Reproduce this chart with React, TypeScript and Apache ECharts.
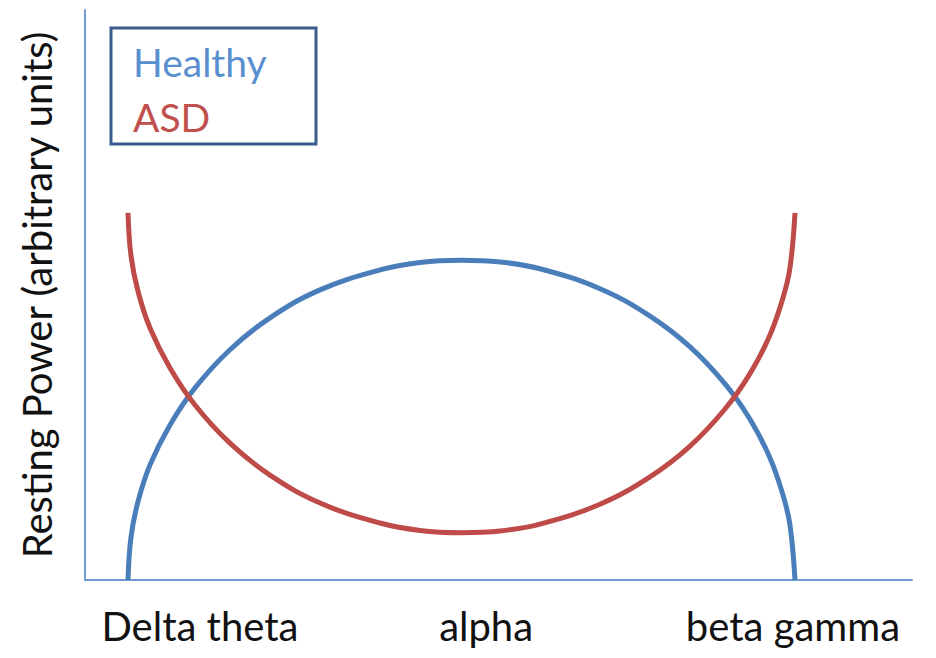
import React, { useEffect, useRef } from "react";
import * as echarts from "echarts";

// Band positions along the frequency axis (0..10) and resting power (0..10)
const bandX = [0.52, 0.556, 0.64, 0.786, 1.028, 1.33, 1.753, 2.237, 2.842, 3.567, 4.05, 4.547, 5.02, 5.502, 6.227, 6.832, 7.316, 7.739, 8.041, 8.283, 8.44, 8.525, 8.585];
const healthy = [0, 0.75, 1.37, 2.02, 2.72, 3.37, 4.04, 4.6, 5.09, 5.44, 5.57, 5.61, 5.58, 5.46, 5.11, 4.63, 4.09, 3.44, 2.82, 2.14, 1.49, 0.96, 0];
const asd = [6.44, 5.69, 5.07, 4.42, 3.72, 3.07, 2.4, 1.84, 1.35, 1.0, 0.87, 0.83, 0.86, 0.98, 1.33, 1.81, 2.35, 3.0, 3.62, 4.3, 4.95, 5.48, 6.44];
const bandLabels = ["Delta theta", "alpha", "beta gamma"];
const bandLabelPos = [1.39, 4.85, 8.56];
const seriesNames = ["Healthy", "ASD"];

const FONT = "Lato, 'Open Sans', sans-serif";

function labelFor(v: number): string {
  let best = 0;
  for (let i = 1; i < bandLabelPos.length; i++) {
    if (Math.abs(bandLabelPos[i] - v) < Math.abs(bandLabelPos[best] - v)) best = i;
  }
  return Math.abs(bandLabelPos[best] - v) < 0.05 ? bandLabels[best] : "";
}

export default function App() {
  const ref = useRef<HTMLDivElement>(null);
  useEffect(() => {
    if (!ref.current) return;
    const chart = echarts.init(ref.current, null, { renderer: "svg" });
    chart.setOption({
      animation: false,
      backgroundColor: "#ffffff",
      grid: { left: 85, top: 10, right: 24, bottom: 78 },
      xAxis: {
        type: "value",
        min: 0,
        max: 10,
        axisLine: { show: true, lineStyle: { color: "#7199d2", width: 2 } },
        axisTick: { show: false },
        splitLine: { show: false },
        axisLabel: {
          customValues: bandLabelPos,
          formatter: (v: number) => labelFor(v),
          color: "#111111",
          fontSize: 40,
          fontFamily: FONT,
          margin: 26,
          showMinLabel: true,
          showMaxLabel: true,
        },
      },
      yAxis: {
        type: "value",
        min: 0,
        max: 10,
        name: "Resting Power (arbitrary units)",
        nameLocation: "middle",
        nameRotate: 90,
        nameGap: 28,
        nameTextStyle: { color: "#111111", fontSize: 40, fontFamily: FONT },
        axisLine: { show: true, lineStyle: { color: "#7199d2", width: 2 } },
        axisTick: { show: false },
        axisLabel: { show: false },
        splitLine: { show: false },
      },
      legend: {
        orient: "vertical",
        left: 128,
        top: 42,
        padding: 0,
        icon: "none",
        itemWidth: 0,
        itemHeight: 0,
        itemGap: 16,
        selectedMode: false,
        textStyle: { fontSize: 39, fontFamily: FONT },
        data: [
          { name: seriesNames[0], textStyle: { color: "#5a8fcf" } },
          { name: seriesNames[1], textStyle: { color: "#c0504d" } },
        ],
      },
      graphic: [
        {
          type: "rect",
          shape: { x: 111, y: 28, width: 205, height: 116 },
          style: { fill: "none", stroke: "#385d8a", lineWidth: 3 },
        },
      ],
      series: [
        {
          name: seriesNames[0],
          type: "line",
          data: bandX.map((x, i) => [x, healthy[i]]),
          smooth: 0.4,
          symbol: "none",
          lineStyle: { color: "#4a7ebb", width: 5 },
          itemStyle: { color: "#4a7ebb" },
        },
        {
          name: seriesNames[1],
          type: "line",
          data: bandX.map((x, i) => [x, asd[i]]),
          smooth: 0.4,
          symbol: "none",
          lineStyle: { color: "#be4b48", width: 5 },
          itemStyle: { color: "#be4b48" },
        },
      ],
    });
    return () => chart.dispose();
  }, []);
  return <div ref={ref} style={{ position: "fixed", left: 0, top: 0, width: 936, height: 658 }} />;
}
